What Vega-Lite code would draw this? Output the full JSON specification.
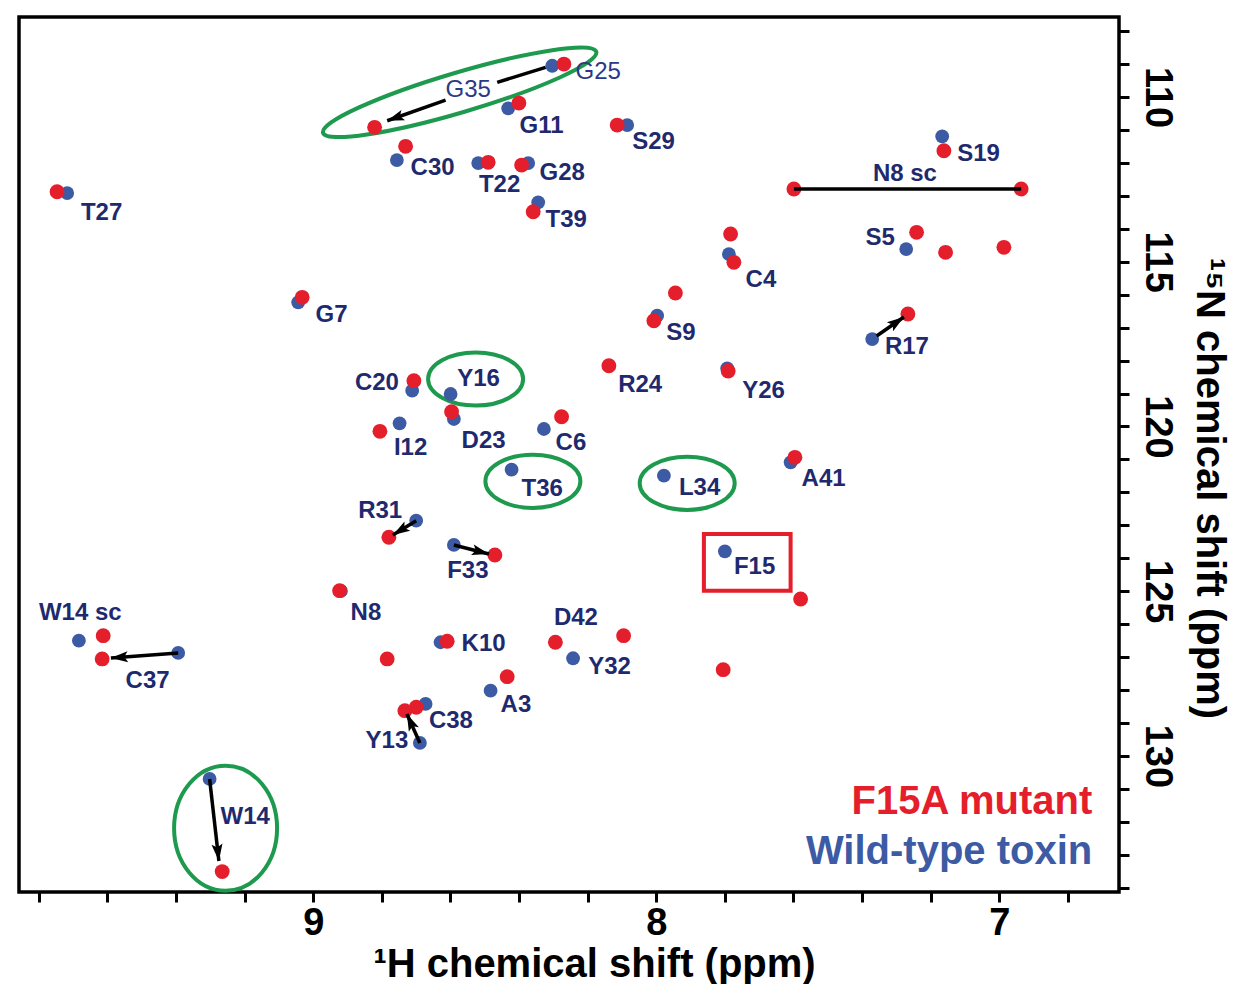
{
  "$schema": "https://vega.github.io/schema/vega-lite/v6.json",
  "width": 1100,
  "height": 875,
  "padding": {"left": 19, "top": 17, "right": 10, "bottom": 0},
  "background": "white",
  "config": {
    "view": {"stroke": "black", "strokeWidth": 3.5},
    "axis": {
      "domain": false, "grid": false, "ticks": true, "tickColor": "black", "tickWidth": 3, "tickSize": 10,
      "labelFont": "Liberation Sans", "labelFontWeight": "bold", "labelFontSize": 38, "labelColor": "black",
      "titleFont": "Liberation Sans", "titleFontWeight": "bold", "titleFontSize": 40, "titleColor": "black"
    }
  },
  "datasets": {
    "peaks": [
      {"form": "Wild-type toxin", "res": "T27", "h": 9.7175, "n": 112.913},
      {"form": "Wild-type toxin", "res": "G25", "h": 8.3035, "n": 109.050},
      {"form": "Wild-type toxin", "res": "G11", "h": 8.4318, "n": 110.343},
      {"form": "Wild-type toxin", "res": "C30", "h": 8.7563, "n": 111.912},
      {"form": "Wild-type toxin", "res": "T22", "h": 8.5192, "n": 112.003},
      {"form": "Wild-type toxin", "res": "G28", "h": 8.3735, "n": 112.003},
      {"form": "Wild-type toxin", "res": "T39", "h": 8.3443, "n": 113.196},
      {"form": "Wild-type toxin", "res": "S29", "h": 8.0848, "n": 110.850},
      {"form": "Wild-type toxin", "res": "S19", "h": 7.1665, "n": 111.193},
      {"form": "Wild-type toxin", "res": "S5", "h": 7.2714, "n": 114.613},
      {"form": "Wild-type toxin", "res": "C4", "h": 7.7883, "n": 114.765},
      {"form": "Wild-type toxin", "res": "R17", "h": 7.3705, "n": 117.345},
      {"form": "Wild-type toxin", "res": "Y26", "h": 7.7933, "n": 118.234},
      {"form": "Wild-type toxin", "res": "S9", "h": 7.9974, "n": 116.637},
      {"form": "Wild-type toxin", "res": "G7", "h": 9.044, "n": 116.231},
      {"form": "Wild-type toxin", "res": "C20", "h": 8.7117, "n": 118.914},
      {"form": "Wild-type toxin", "res": "Y16", "h": 8.5997, "n": 119.014},
      {"form": "Wild-type toxin", "res": "D23", "h": 8.5901, "n": 119.772},
      {"form": "Wild-type toxin", "res": "I12", "h": 8.7484, "n": 119.903},
      {"form": "Wild-type toxin", "res": "C6", "h": 8.3277, "n": 120.076},
      {"form": "Wild-type toxin", "res": "T36", "h": 8.4219, "n": 121.311},
      {"form": "Wild-type toxin", "res": "L34", "h": 7.9778, "n": 121.493},
      {"form": "Wild-type toxin", "res": "A41", "h": 7.6084, "n": 121.087},
      {"form": "Wild-type toxin", "res": "R31", "h": 8.70, "n": 122.859},
      {"form": "Wild-type toxin", "res": "F33", "h": 8.5901, "n": 123.596},
      {"form": "Wild-type toxin", "res": "N8", "h": 8.9195, "n": 124.99},
      {"form": "Wild-type toxin", "res": "K10", "h": 8.6289, "n": 126.549},
      {"form": "Wild-type toxin", "res": "A3", "h": 8.4831, "n": 128.018},
      {"form": "Wild-type toxin", "res": "Y32", "h": 8.2426, "n": 127.035},
      {"form": "Wild-type toxin", "res": "F15", "h": 7.80, "n": 123.788},
      {"form": "Wild-type toxin", "res": "C38", "h": 8.6726, "n": 128.422},
      {"form": "Wild-type toxin", "res": "Y13", "h": 8.6892, "n": 129.605},
      {"form": "Wild-type toxin", "res": "W14 sc", "h": 9.6834, "n": 126.501},
      {"form": "Wild-type toxin", "res": "C37", "h": 9.3939, "n": 126.874},
      {"form": "Wild-type toxin", "res": "W14", "h": 9.3023, "n": 130.698},
      {"form": "F15A mutant", "res": "T27", "h": 9.747, "n": 112.874},
      {"form": "F15A mutant", "res": "G25", "h": 8.2694, "n": 108.998},
      {"form": "F15A mutant", "res": "G11", "h": 8.4006, "n": 110.182},
      {"form": "F15A mutant", "res": "G35", "h": 8.8213, "n": 110.920},
      {"form": "F15A mutant", "res": "C30", "h": 8.7309, "n": 111.496},
      {"form": "F15A mutant", "res": "T22", "h": 8.4901, "n": 111.982},
      {"form": "F15A mutant", "res": "G28", "h": 8.3927, "n": 112.064},
      {"form": "F15A mutant", "res": "T39", "h": 8.3589, "n": 113.481},
      {"form": "F15A mutant", "res": "S29", "h": 8.114, "n": 110.850},
      {"form": "F15A mutant", "res": "S19", "h": 7.1615, "n": 111.630},
      {"form": "F15A mutant", "res": "N8 sc a", "h": 7.5988, "n": 112.792},
      {"form": "F15A mutant", "res": "N8 sc b", "h": 6.9362, "n": 112.792},
      {"form": "F15A mutant", "res": "S5", "h": 7.2411, "n": 114.106},
      {"form": "F15A mutant", "res": "?1", "h": 7.1566, "n": 114.713},
      {"form": "F15A mutant", "res": "?2", "h": 6.9866, "n": 114.561},
      {"form": "F15A mutant", "res": "?3", "h": 7.7834, "n": 114.158},
      {"form": "F15A mutant", "res": "C4", "h": 7.7738, "n": 115.017},
      {"form": "F15A mutant", "res": "R17", "h": 7.2665, "n": 116.586},
      {"form": "F15A mutant", "res": "Y26", "h": 7.7904, "n": 118.316},
      {"form": "F15A mutant", "res": "?4", "h": 7.9443, "n": 115.948},
      {"form": "F15A mutant", "res": "S9", "h": 8.007, "n": 116.789},
      {"form": "F15A mutant", "res": "G7", "h": 9.0324, "n": 116.079},
      {"form": "F15A mutant", "res": "C20", "h": 8.7067, "n": 118.610},
      {"form": "F15A mutant", "res": "D23", "h": 8.5968, "n": 119.551},
      {"form": "F15A mutant", "res": "I12", "h": 8.8058, "n": 120.146},
      {"form": "F15A mutant", "res": "C6", "h": 8.2761, "n": 119.703},
      {"form": "F15A mutant", "res": "R24", "h": 8.1382, "n": 118.155},
      {"form": "F15A mutant", "res": "A41", "h": 7.5959, "n": 120.935},
      {"form": "F15A mutant", "res": "R31", "h": 8.7796, "n": 123.363},
      {"form": "F15A mutant", "res": "F33", "h": 8.4706, "n": 123.900},
      {"form": "F15A mutant", "res": "N8", "h": 8.9233, "n": 124.983},
      {"form": "F15A mutant", "res": "K10", "h": 8.6096, "n": 126.519},
      {"form": "F15A mutant", "res": "?5", "h": 8.7846, "n": 127.056},
      {"form": "F15A mutant", "res": "A3", "h": 8.4347, "n": 127.593},
      {"form": "F15A mutant", "res": "D42", "h": 8.2942, "n": 126.549},
      {"form": "F15A mutant", "res": "?6", "h": 8.0953, "n": 126.349},
      {"form": "F15A mutant", "res": "?7", "h": 7.5793, "n": 125.235},
      {"form": "F15A mutant", "res": "?8", "h": 7.8050, "n": 127.381},
      {"form": "F15A mutant", "res": "C38", "h": 8.70, "n": 128.522},
      {"form": "F15A mutant", "res": "Y13", "h": 8.733, "n": 128.625},
      {"form": "F15A mutant", "res": "W14 sc", "h": 9.6125, "n": 126.349},
      {"form": "F15A mutant", "res": "C37", "h": 9.6155, "n": 127.056},
      {"form": "F15A mutant", "res": "W14", "h": 9.2656, "n": 133.511}
    ],
    "arrows": [
      {"res": "G35", "h": 8.3227, "n": 109.099, "h2": 8.4638, "n2": 109.554, "head": false},
      {"res": "G35", "h": 8.6143, "n": 110.091, "h2": 8.7845, "n2": 110.719, "head": true},
      {"res": "R17", "h": 7.3577, "n": 117.254, "h2": 7.2781, "n2": 116.677, "head": true},
      {"res": "C37", "h": 9.3939, "n": 126.874, "h2": 9.5901, "n2": 127.026, "head": true},
      {"res": "W14", "h": 9.3023, "n": 130.698, "h2": 9.2752, "n2": 133.187, "head": true},
      {"res": "R31", "h": 8.70, "n": 122.859, "h2": 8.7679, "n2": 123.293, "head": true},
      {"res": "F33", "h": 8.5901, "n": 123.596, "h2": 8.4880, "n2": 123.869, "head": true},
      {"res": "Y13", "h": 8.6892, "n": 129.605, "h2": 8.7271, "n2": 128.725, "head": true},
      {"res": "N8 sc", "h": 7.5988, "n": 112.792, "h2": 6.9362, "n2": 112.792, "head": false}
    ],
    "labels": [
      {"label": "T27", "h": 9.6776, "n": 113.520},
      {"label": "G25", "h": 8.2353, "n": 109.226},
      {"label": "G35", "h": 8.6143, "n": 109.781},
      {"label": "G11", "h": 8.3985, "n": 110.871},
      {"label": "C30", "h": 8.7163, "n": 112.155},
      {"label": "T22", "h": 8.5172, "n": 112.665},
      {"label": "G28", "h": 8.3402, "n": 112.307},
      {"label": "T39", "h": 8.3227, "n": 113.733},
      {"label": "S29", "h": 8.0703, "n": 111.351},
      {"label": "S19", "h": 7.1227, "n": 111.730},
      {"label": "N8 sc", "h": 7.3685, "n": 112.337},
      {"label": "S5", "h": 7.3898, "n": 114.279},
      {"label": "C4", "h": 7.7396, "n": 115.554},
      {"label": "R17", "h": 7.3335, "n": 117.596},
      {"label": "Y26", "h": 7.7496, "n": 118.914},
      {"label": "S9", "h": 7.9711, "n": 117.162},
      {"label": "G7", "h": 8.9933, "n": 116.616},
      {"label": "C20", "h": 8.8787, "n": 118.680},
      {"label": "Y16", "h": 8.5805, "n": 118.558},
      {"label": "D23", "h": 8.5676, "n": 120.455},
      {"label": "I12", "h": 8.765, "n": 120.653},
      {"label": "C6", "h": 8.2936, "n": 120.501},
      {"label": "R24", "h": 8.1111, "n": 118.734},
      {"label": "T36", "h": 8.3927, "n": 121.897},
      {"label": "L34", "h": 7.9341, "n": 121.866},
      {"label": "A41", "h": 7.5764, "n": 121.593},
      {"label": "R31", "h": 8.8691, "n": 122.580},
      {"label": "F33", "h": 8.6096, "n": 124.385},
      {"label": "N8", "h": 8.8913, "n": 125.660},
      {"label": "K10", "h": 8.5676, "n": 126.601},
      {"label": "A3", "h": 8.4539, "n": 128.452},
      {"label": "D42", "h": 8.2985, "n": 125.812},
      {"label": "Y32", "h": 8.1985, "n": 127.308},
      {"label": "F15", "h": 7.7738, "n": 124.273},
      {"label": "C38", "h": 8.663, "n": 128.929},
      {"label": "Y13", "h": 8.8475, "n": 129.535},
      {"label": "W14 sc", "h": 9.80, "n": 125.660},
      {"label": "C37", "h": 9.5472, "n": 127.724},
      {"label": "W14", "h": 9.2703, "n": 131.861}
    ],
    "circles": [
      {"res": "G35", "h": 8.5732, "n": 109.857},
      {"res": "Y16", "h": 8.5268, "n": 118.558},
      {"res": "T36", "h": 8.3598, "n": 121.663},
      {"res": "L34", "h": 7.9099, "n": 121.724},
      {"res": "W14", "h": 9.2557, "n": 132.194}
    ],
    "box": [
      {"res": "F15", "h": 7.8612, "n": 123.262, "h2": 7.6084, "n2": 124.983}
    ],
    "legend": [
      {"text": "F15A mutant", "form": "F15A mutant", "h": 6.729, "n": 131.4},
      {"text": "Wild-type toxin", "form": "Wild-type toxin", "h": 6.729, "n": 132.91}
    ]
  },
  "encoding": {
    "x": {
      "field": "h", "type": "quantitative", "title": "¹H chemical shift (ppm)",
      "scale": {"domain": [6.651, 9.858], "reverse": true, "nice": false, "zero": false},
      "axis": {
        "orient": "bottom",
        "values": [9.8, 9.6, 9.4, 9.2, 9, 8.8, 8.6, 8.4, 8.2, 8, 7.8, 7.6, 7.4, 7.2, 7, 6.8],
        "labelExpr": "abs(datum.value - round(datum.value)) < 0.01 ? format(datum.value, 'd') : ''",
        "labelPadding": 2, "titlePadding": 2, "titleX": 575
      }
    },
    "y": {
      "field": "n", "type": "quantitative", "title": "¹⁵N chemical shift (ppm)",
      "scale": {"domain": [107.57, 134.13], "reverse": true, "nice": false, "zero": false},
      "axis": {
        "orient": "right",
        "values": [108, 109, 110, 111, 112, 113, 114, 115, 116, 117, 118, 119, 120, 121, 122, 123, 124, 125, 126, 127, 128, 129, 130, 131, 132, 133, 134],
        "labelExpr": "datum.value % 5 === 0 ? format(datum.value, 'd') : ''",
        "labelAngle": 90, "labelAlign": "center", "labelBaseline": "bottom",
        "labelPadding": 8, "titlePadding": 13, "titleFontSize": 40, "titleY": 471
      }
    }
  },
  "layer": [
    {
      "data": {"name": "circles"},
      "transform": [{"filter": "datum.res === 'Y16' || datum.res === 'T36' || datum.res === 'L34'"}],
      "mark": {"type": "point", "filled": false, "color": "#1e9a4e", "strokeWidth": 4, "opacity": 1, "size": 9025,
        "shape": "M-1,0C-1,-0.309 -0.552,-0.56 0,-0.56C0.552,-0.56 1,-0.309 1,0C1,0.309 0.552,0.56 0,0.56C-0.552,0.56 -1,0.309 -1,0Z"}
    },
    {
      "data": {"name": "circles"},
      "transform": [{"filter": "datum.res === 'W14'"}],
      "mark": {"type": "point", "filled": false, "color": "#1e9a4e", "strokeWidth": 4, "opacity": 1, "size": 15625,
        "shape": "M-0.824,0C-0.824,-0.552 -0.455,-1 0,-1C0.455,-1 0.824,-0.552 0.824,0C0.824,0.552 0.455,1 0,1C-0.455,1 -0.824,0.552 -0.824,0Z"}
    },
    {
      "data": {"name": "circles"},
      "transform": [{"filter": "datum.res === 'G35'"}],
      "mark": {"type": "point", "filled": false, "color": "#1e9a4e", "strokeWidth": 4, "opacity": 1, "size": 81225, "angle": -16.5,
        "shape": "M-1,0C-1,-0.0774 -0.552,-0.14 0,-0.14C0.552,-0.14 1,-0.0774 1,0C1,0.0774 0.552,0.14 0,0.14C-0.552,0.14 -1,0.0774 -1,0Z"}
    },
    {
      "data": {"name": "box"},
      "mark": {"type": "rect", "fillOpacity": 0, "stroke": "#e41e2b", "strokeWidth": 4},
      "encoding": {"x2": {"field": "h2"}, "y2": {"field": "n2"}}
    },
    {
      "data": {"name": "peaks"},
      "transform": [{"filter": "datum.form === 'Wild-type toxin'"}],
      "mark": {"type": "circle", "size": 190, "opacity": 1},
      "encoding": {
        "color": {"field": "form", "type": "nominal", "scale": {"domain": ["F15A mutant", "Wild-type toxin"], "range": ["#e41e2b", "#3c5ba4"]}, "legend": null}
      }
    },
    {
      "data": {"name": "peaks"},
      "transform": [{"filter": "datum.form === 'F15A mutant'"}],
      "mark": {"type": "circle", "size": 220, "opacity": 1},
      "encoding": {
        "color": {"field": "form", "type": "nominal", "scale": {"domain": ["F15A mutant", "Wild-type toxin"], "range": ["#e41e2b", "#3c5ba4"]}, "legend": null}
      }
    },
    {
      "data": {"name": "arrows"},
      "mark": {"type": "rule", "color": "black", "strokeWidth": 3.5},
      "encoding": {"x2": {"field": "h2"}, "y2": {"field": "n2"}}
    },
    {
      "data": {"name": "arrows"},
      "transform": [
        {"filter": "datum.head"},
        {"calculate": "atan2((datum.h - datum.h2) * 343.0, (datum.n - datum.n2) * 32.94) * 180 / PI", "as": "dir"}
      ],
      "mark": {"type": "point", "filled": true, "color": "black", "opacity": 1, "size": 400,
        "shape": "M0,0L-0.55,1.7L0,1.35L0.55,1.7Z"},
      "encoding": {
        "x": {"field": "h2", "type": "quantitative", "title": "¹H chemical shift (ppm)"},
        "y": {"field": "n2", "type": "quantitative", "title": "¹⁵N chemical shift (ppm)"},
        "angle": {"field": "dir", "type": "quantitative", "scale": null}
      }
    },
    {
      "data": {"name": "labels"},
      "transform": [{"filter": "datum.label !== 'G25' && datum.label !== 'G35'"}],
      "mark": {"type": "text", "align": "left", "baseline": "middle", "font": "Liberation Sans", "fontWeight": "bold", "fontSize": 24, "color": "#1f2a6e"},
      "encoding": {"text": {"field": "label"}}
    },
    {
      "data": {"name": "labels"},
      "transform": [{"filter": "datum.label === 'G25' || datum.label === 'G35'"}],
      "mark": {"type": "text", "align": "left", "baseline": "middle", "font": "Liberation Sans", "fontWeight": "normal", "fontSize": 24, "color": "#2a3988"},
      "encoding": {"text": {"field": "label"}}
    },
    {
      "data": {"name": "legend"},
      "mark": {"type": "text", "align": "right", "baseline": "middle", "font": "Liberation Sans", "fontWeight": "bold", "fontSize": 40},
      "encoding": {
        "text": {"field": "text"},
        "color": {"field": "form", "type": "nominal", "scale": {"domain": ["F15A mutant", "Wild-type toxin"], "range": ["#e41e2b", "#2b3d8c"]}, "legend": null}
      }
    }
  ]
}
